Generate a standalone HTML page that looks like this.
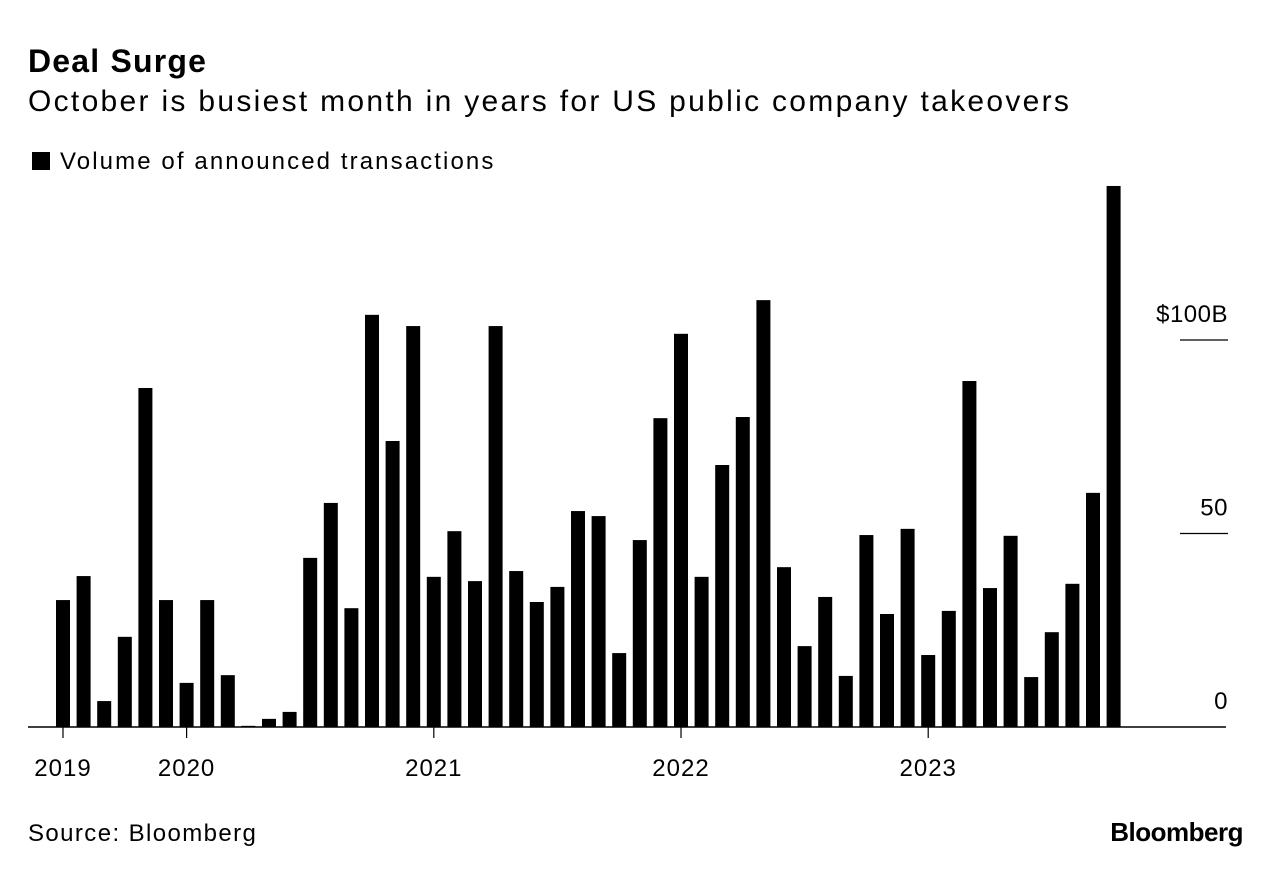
<!DOCTYPE html>
<html><head><meta charset="utf-8"><style>
body{margin:0;background:#fff;font-family:"Liberation Sans",sans-serif;color:#000;}
#wrap{position:relative;width:1281px;height:876px;overflow:hidden;}
.t{position:absolute;white-space:nowrap;}
</style></head><body>
<div id="wrap">
<div class="t" style="left:28px;top:43px;font-size:32px;font-weight:bold;letter-spacing:1.2px">Deal Surge</div>
<div class="t" style="left:28px;top:85px;font-size:30px;letter-spacing:2.3px">October is busiest month in years for US public company takeovers</div>
<div class="t" style="left:32px;top:148px;font-size:24px;letter-spacing:2.1px"><span style="display:inline-block;width:18px;height:18px;background:#000;margin-right:10px;vertical-align:-1px"></span>Volume of announced transactions</div>
<svg id="chart" width="1281" height="876" style="position:absolute;left:0;top:0"></svg>
<div class="t" style="left:28px;top:820px;font-size:24px;letter-spacing:1.4px">Source: Bloomberg</div>
<div class="t" style="right:38px;top:817px;font-size:26px;font-weight:bold;letter-spacing:-0.5px">Bloomberg</div>
</div>
<script>
const values=[32.8,39,6.7,23.3,87.6,32.8,11.4,32.8,13.4,0.3,2.1,3.9,43.7,57.9,30.7,106.5,73.9,103.6,38.8,50.6,37.7,103.6,40.3,32.3,36.2,55.8,54.5,19.1,48.3,79.8,101.6,38.8,67.7,80.1,110.3,41.3,20.9,33.6,13.2,49.6,29.2,51.2,18.6,30,89.4,35.9,49.4,12.9,24.5,37,60.5,139.8];
const yTicks=[0,50,100];
const yTickLabels=["0","50","$100B"];
const yearLabels=["2019","2020","2021","2022","2023"];
const yearIndex=[0,6,18,30,42];
const svg=document.getElementById('chart');
const NS='http://www.w3.org/2000/svg';
const x0=63,step=20.6,base=727,ppu=3.87,bw=14;
const xs=i=>x0+i*step;
const ys=v=>base-v*ppu;
function mk(tag,attrs){const e=document.createElementNS(NS,tag);for(const k in attrs)e.setAttribute(k,attrs[k]);svg.appendChild(e);return e;}
values.forEach((v,i)=>{
 const r=mk('rect',{x:xs(i)-bw/2,y:ys(v),width:bw,height:base-ys(v),fill:'#000'});
 
 
});
const ax=mk('line',{x1:28,x2:1226,y1:base,y2:base,stroke:'#000','stroke-width':1.5});


yTicks.forEach((t,i)=>{
 if(t>0){const l=mk('line',{x1:1180,x2:1228,y1:ys(t),y2:ys(t),stroke:'#000','stroke-width':1.2});
 
 }
 const tx=mk('text',{x:1228,y:ys(t)-18,'text-anchor':'end','font-size':24,'letter-spacing':0.5,'font-family':'Liberation Sans, sans-serif'});
 tx.textContent=yTickLabels[i];
 
 
});
yearLabels.forEach((lab,i)=>{
 const x=xs(yearIndex[i]);
 const tk=mk('line',{x1:x,x2:x,y1:base,y2:base+11,stroke:'#000','stroke-width':1.2});
 
 
 const tx=mk('text',{x:x,y:base+49,'text-anchor':'middle','font-size':24,'letter-spacing':1,'font-family':'Liberation Sans, sans-serif'});
 tx.textContent=lab;
 
 
});
</script>
</body></html>
